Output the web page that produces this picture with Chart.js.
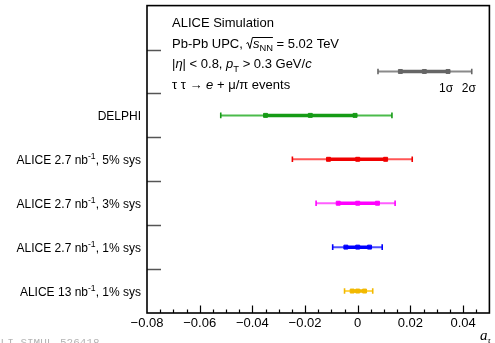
<!DOCTYPE html>
<html>
<head>
<meta charset="utf-8">
<script src="https://cdn.jsdelivr.net/npm/chart.js@4/dist/chart.umd.min.js"></script>
<style>
  html, body { margin: 0; padding: 0; background: #fff; }
  #wrap { width: 495px; height: 343px; }
</style>
</head>
<body>
<div id="wrap"><canvas id="c" width="495" height="343"></canvas></div>
<script>
// ---- data ----
const categories = ['infoBox', 'sigmaKey', 'DELPHI', 'ALICE 2.7 nb^{-1}, 5% sys', 'ALICE 2.7 nb^{-1}, 3% sys', 'ALICE 2.7 nb^{-1}, 1% sys', 'ALICE 13 nb^{-1}, 1% sys'];
const rowLabels = ['DELPHI', 'ALICE 2.7 nb^{-1}, 5% sys', 'ALICE 2.7 nb^{-1}, 3% sys', 'ALICE 2.7 nb^{-1}, 1% sys', 'ALICE 13 nb^{-1}, 1% sys'];
const centralValue = [-0.018, 0.0, 0.0, 0.0, 0.0];
const low1sigma  = [-0.035, -0.0111, -0.0074, -0.0045, -0.0021];
const high1sigma = [-0.001,  0.0106,  0.0075,  0.0045,  0.0026];
const low2sigma  = [-0.052, -0.0248, -0.0158, -0.0095, -0.0050];
const high2sigma = [ 0.013,  0.0207,  0.0142,  0.0093,  0.0057];
// key (legend) bar
const keyRow = 'sigmaKey';
const keyCentral = 0.0253;
const keyLow1 = 0.0162, keyHigh1 = 0.0343, keyLow2 = 0.0077, keyHigh2 = 0.0433;
const majorTicks = [-0.08, -0.06, -0.04, -0.02, 0, 0.02, 0.04];

// ---- styles ----
const innerColors = ['#169b16', '#f00000', '#ff00ff', '#0000ff', '#f2b900'];
const outerColors = ['rgba(30,170,30,0.8)', 'rgba(255,30,30,0.75)', 'rgba(255,40,255,0.75)', 'rgba(20,20,255,0.75)', 'rgba(255,200,20,0.75)'];
const keyInner = '#666666', keyOuter = '#8a8a8a';

const datasets = [];
function addRow(cat, c, l1, h1, l2, h2, inner, outer) {
  datasets.push({ data: [{x: l2, y: cat}, {x: h2, y: cat}], borderColor: outer, borderWidth: 2,
    pointStyle: 'line', pointRotation: 90, pointRadius: 2.8, pointBorderWidth: 1.6, pointBorderColor: inner, order: 3 });
  datasets.push({ data: [{x: l1, y: cat}, {x: h1, y: cat}], borderColor: inner, borderWidth: 3.5,
    pointStyle: 'rect', pointRadius: 2.8, pointBackgroundColor: inner, pointBorderColor: inner, pointBorderWidth: 1, order: 2 });
  datasets.push({ data: [{x: c, y: cat}], showLine: false, borderColor: inner,
    pointStyle: 'rect', pointRadius: 2.8, pointBackgroundColor: inner, pointBorderColor: inner, pointBorderWidth: 1, order: 1 });
}
addRow(keyRow, keyCentral, keyLow1, keyHigh1, keyLow2, keyHigh2, keyInner, keyOuter);
for (let i = 0; i < rowLabels.length; i++) {
  addRow(rowLabels[i], centralValue[i], low1sigma[i], high1sigma[i], low2sigma[i], high2sigma[i], innerColors[i], outerColors[i]);
}

const SANS = '"Liberation Sans", Arial, Helvetica, sans-serif';

function fmtTick(v) {
  if (Math.abs(v) < 1e-9) return '0';
  return (v < 0 ? '\u2212' : '') + Math.abs(v).toFixed(2);
}

// rich text: segments {t, it, sub, sup, sqrt}
function drawRich(ctx, x, y, segs, size) {
  ctx.textBaseline = 'alphabetic';
  ctx.textAlign = 'left';
  for (const s of segs) {
    if (s.sqrt) {
      // square root sign covering following segments s.sqrt
      const start = x;
      ctx.save();
      ctx.strokeStyle = '#000'; ctx.lineWidth = 1;
      ctx.beginPath();
      ctx.moveTo(x, y - 4); ctx.lineTo(x + 1.5, y - 5);
      ctx.lineTo(x + 3.5, y + 1);
      ctx.lineTo(x + 6, y - 10);
      s._ox = x + 6;
      ctx.stroke();
      ctx.restore();
      x += 6.5;
      let w = 0;
      const inner = s.sqrt;
      const endX = drawRich(ctx, x, y, inner, size);
      ctx.save();
      ctx.strokeStyle = '#000'; ctx.lineWidth = 1;
      ctx.beginPath(); ctx.moveTo(start + 6, y - 10); ctx.lineTo(endX, y - 10); ctx.stroke();
      ctx.restore();
      x = endX;
      continue;
    }
    const small = s.sub || s.sup;
    const sz = small ? size * 0.72 : size;
    ctx.font = (s.it ? 'italic ' : '') + sz + 'px ' + (s.fam || SANS);
    const dy = s.sub ? size * 0.28 : (s.sup ? -size * 0.42 : 0);
    ctx.fillStyle = s.color || '#000';
    ctx.fillText(s.t, x, y + dy);
    x += ctx.measureText(s.t).width;
  }
  return x;
}
function parseLabel(str) {
  const segs = [];
  const re = /\^\{(.+?)\}/g;
  let last = 0, m;
  while ((m = re.exec(str)) !== null) {
    if (m.index > last) segs.push({t: str.slice(last, m.index)});
    segs.push({t: m[1], sup: true});
    last = re.lastIndex;
  }
  if (last < str.length) segs.push({t: str.slice(last)});
  return segs;
}
function richWidth(ctx, segs, size) {
  let w = 0;
  for (const s of segs) {
    const sz = (s.sub || s.sup) ? size * 0.72 : size;
    ctx.font = (s.it ? 'italic ' : '') + sz + 'px ' + SANS;
    w += ctx.measureText(s.t).width;
  }
  return w;
}

const decor = {
  id: 'decor',
  afterDraw(chart) {
    const ctx = chart.ctx;
    const a = chart.chartArea;
    const xs = chart.scales.x, ys = chart.scales.y;
    ctx.save();
    // y separators (inward ticks)
    ctx.strokeStyle = '#555'; ctx.lineWidth = 1.5;
    for (let i = 0; i < categories.length - 1; i++) {
      const yy = Math.round((ys.getPixelForValue(i) + ys.getPixelForValue(i + 1)) / 2) + 0.5;
      ctx.beginPath(); ctx.moveTo(a.left, yy); ctx.lineTo(a.left + 14, yy); ctx.stroke();
    }
    // x ticks (inward)
    ctx.strokeStyle = '#000'; ctx.lineWidth = 1.2;
    for (let k = -16; k <= 10; k++) {
      const v = k * 0.005;
      const px = Math.round(xs.getPixelForValue(v)) + 0.5;
      if (px < a.left + 1 || px > a.right - 1) continue;
      const major = (k % 4 === 0);
      ctx.beginPath(); ctx.moveTo(px, a.bottom); ctx.lineTo(px, a.bottom - (major ? 7.5 : 3.5)); ctx.stroke();
    }
    // frame
    ctx.strokeStyle = '#000'; ctx.lineWidth = 1.6;
    ctx.strokeRect(a.left, a.top, a.right - a.left, a.bottom - a.top);
    // y labels
    for (let i = 0; i < rowLabels.length; i++) {
      const segs = parseLabel(rowLabels[i]);
      const w = richWidth(ctx, segs, 12);
      const yy = ys.getPixelForValue(categories.indexOf(rowLabels[i])) + 4.5;
      drawRich(ctx, 141 - w, yy, segs, 12);
    }
    // info text
    const tx = 172;
    drawRich(ctx, tx, 27, [{t: 'ALICE Simulation'}], 13);
    drawRich(ctx, tx, 47.5, [{t: 'Pb-Pb UPC, '}, {sqrt: [{t: 's', it: true}, {t: 'NN', sub: true}]}, {t: ' = 5.02 TeV'}], 13);
    drawRich(ctx, tx, 68, [{t: '|'}, {t: '\u03B7', it: true}, {t: '| < 0.8, '}, {t: 'p', it: true}, {t: 'T', sub: true}, {t: ' > 0.3 GeV/'}, {t: 'c', it: true}], 13);
    drawRich(ctx, tx, 89, [{t: '\u03C4 \u03C4 \u2192 '}, {t: 'e', it: true}, {t: ' + \u03BC/\u03C0 events'}], 13);
    // sigma key labels
    ctx.font = '12px ' + SANS; ctx.fillStyle = '#000'; ctx.textAlign = 'center'; ctx.textBaseline = 'alphabetic';
    ctx.fillText('1\u03C3', xs.getPixelForValue(keyHigh1) - 2, 92);
    ctx.fillText('2\u03C3', xs.getPixelForValue(keyHigh2) - 3, 92);
    // axis title
    ctx.textAlign = 'left';
    ctx.font = 'italic 15px "Liberation Serif", "Times New Roman", serif';
    ctx.fillText('a', 480, 340);
    ctx.font = 'italic 9px "Liberation Serif", "Times New Roman", serif';
    ctx.fillText('\u03C4', 487.5, 343);
    // watermark
    ctx.font = '11px "Liberation Mono", "DejaVu Sans Mono", monospace';
    ctx.fillStyle = '#b4b4b4';
    ctx.fillText('ALI-SIMUL-526418', -6, 346);
    ctx.restore();
  }
};

new Chart(document.getElementById('c'), {
  type: 'line',
  data: { labels: categories, datasets: datasets },
  options: {
    responsive: false,
    animation: false,
    devicePixelRatio: 1,
    layout: { padding: { top: 5, right: 2, left: 0, bottom: 0 } },
    plugins: { legend: { display: false }, tooltip: { enabled: false } },
    elements: { line: { tension: 0 } },
    scales: {
      x: {
        type: 'linear', min: -0.08, max: 0.05,
        afterBuildTicks: (s) => { s.ticks = majorTicks.map(v => ({ value: v })); },
        afterFit: (s) => { s.height = 30; },
        grid: { display: false, drawTicks: false },
        border: { display: false },
        ticks: { callback: (v) => fmtTick(v), font: { family: SANS, size: 13 }, color: '#000', padding: 3, maxRotation: 0, autoSkip: false }
      },
      y: {
        type: 'category', labels: categories, offset: true,
        afterFit: (s) => { s.width = 147; },
        grid: { display: false, drawTicks: false },
        border: { display: false },
        ticks: { display: false }
      }
    }
  },
  plugins: [decor]
});
</script>
</body>
</html>
